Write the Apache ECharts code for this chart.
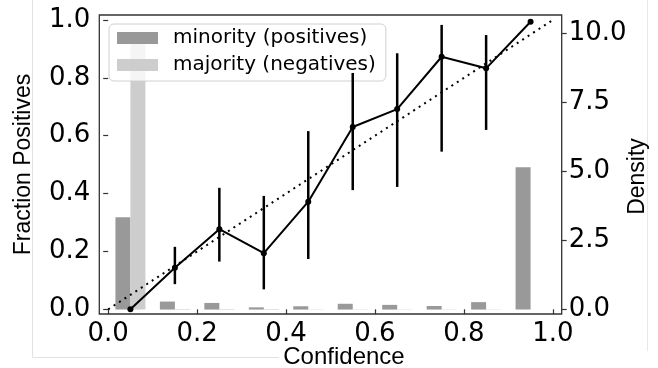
<!DOCTYPE html>
<html>
<head>
<meta charset="utf-8">
<script src="https://cdn.jsdelivr.net/npm/echarts@6/dist/echarts.min.js"></script>
<style>
html,body{margin:0;padding:0;background:#fff;}
#chart{width:658px;height:368px;}
</style>
</head>
<body>
<div id="chart"></div>
<script>
// ---- data ----
var binCenters = [0.05, 0.15, 0.25, 0.35, 0.45, 0.55, 0.65, 0.75, 0.85, 0.95];
var minorityDensity = [3.34, 0.29, 0.24, 0.08, 0.12, 0.21, 0.17, 0.13, 0.27, 5.15];
var majorityDensity = [9.93, 0.02, 0.02, 0.02, 0.01, 0.01, 0.01, 0.01, 0.01, 0];
var fractionPositives = [0.0, 0.144, 0.277, 0.194, 0.372, 0.63, 0.692, 0.873, 0.833, 0.994];
var errLow  = [null, 0.087, 0.165, 0.069, 0.174, 0.412, 0.423, 0.545, 0.62, null];
var errHigh = [null, 0.216, 0.42, 0.392, 0.616, 0.817, 0.885, 0.983, 0.948, null];
var xTicks = [0, 0.2, 0.4, 0.6, 0.8, 1.0];
var yTicks = [0, 0.2, 0.4, 0.6, 0.8, 1.0];
var densityTicks = [0, 2.5, 5, 7.5, 10];
var diagonal = [[0, 0], [1, 1]];
var seriesNames = ['minority (positives)', 'majority (negatives)'];

function zip(a, b) { return a.map(function (v, i) { return [v, b[i]]; }); }
var errData = [];
binCenters.forEach(function (c, i) {
  if (errLow[i] != null) errData.push([c, errLow[i], errHigh[i]]);
});

var tickFont = { fontFamily: 'DejaVu Sans', fontSize: 26, color: '#000' };
var nameFont = { fontFamily: 'Liberation Sans', fontSize: 23, color: '#000' };

var chart = echarts.init(document.getElementById('chart'));
chart.setOption({
  animation: false,
  backgroundColor: '#fff',
  grid: { left: 99.3, right: 96.3, top: 15, bottom: 54, outerBoundsMode: 'none', containLabel: false,
          show: true, borderColor: '#333', borderWidth: 1.3, backgroundColor: 'transparent' },
  legend: {
    orient: 'vertical', left: 109, top: 24,
    data: seriesNames,
    icon: 'rect', itemWidth: 41, itemHeight: 12, itemGap: 7,
    backgroundColor: 'rgba(255,255,255,0.8)', borderColor: '#d0d0d0', borderWidth: 1, borderRadius: 5,
    padding: [4, 10, 6, 8],
    textStyle: { fontFamily: 'DejaVu Sans', fontSize: 20, color: '#000', lineHeight: 20, padding: [0, 0, 0, 10] }
  },
  xAxis: {
    type: 'value', min: -0.02, max: 1.02,
    splitLine: { show: false },
    axisLine: { show: false },
    axisTick: { show: true, length: 5, customValues: xTicks, lineStyle: { color: '#333', width: 1.2 } },
    axisLabel: Object.assign({ customValues: xTicks, margin: 7, formatter: function (v) { return v.toFixed(1); } }, tickFont),
    name: 'Confidence', nameLocation: 'middle', nameGap: 31, nameMoveOverlap: false,
    nameTextStyle: Object.assign({}, nameFont, { fontSize: 24, padding: [0, 0, 0, 27] })
  },
  yAxis: [{
    type: 'value', min: -0.0162, max: 1.0173,
    splitLine: { show: false },
    axisLine: { show: false },
    axisTick: { show: true, length: 5, customValues: yTicks, lineStyle: { color: '#333', width: 1.2 } },
    axisLabel: Object.assign({ customValues: yTicks, margin: 9, formatter: function (v) { return v.toFixed(1); } }, tickFont),
    name: 'Fraction Positives', nameLocation: 'middle', nameGap: 64, nameRotate: 90, nameMoveOverlap: false,
    nameTextStyle: nameFont
  }, {
    type: 'value', min: -0.16, max: 10.66, position: 'right',
    splitLine: { show: false },
    axisLine: { show: false },
    axisTick: { show: true, length: 5, customValues: densityTicks, lineStyle: { color: '#333', width: 1.2 } },
    axisLabel: Object.assign({ customValues: densityTicks, margin: 7, formatter: function (v) { return v.toFixed(1); } }, tickFont),
    name: 'Density', nameLocation: 'middle', nameGap: 64, nameRotate: 90, nameMoveOverlap: false,
    nameTextStyle: Object.assign({}, nameFont, { padding: [0, 24, 0, 0] })
  }],
  graphic: [
    { type: 'line', z: -10, shape: { x1: 32.5, y1: 0, x2: 32.5, y2: 357.5 }, style: { stroke: '#e2e2e2', lineWidth: 1 } },
    { type: 'line', z: -10, shape: { x1: 32.5, y1: 357.5, x2: 279, y2: 357.5 }, style: { stroke: '#e2e2e2', lineWidth: 1 } },
    { type: 'line', z: -10, shape: { x1: 647.5, y1: 0, x2: 647.5, y2: 351 }, style: { stroke: '#e8e8e8', lineWidth: 1 } }
  ],
  series: [
    {
      name: seriesNames[0], type: 'bar', yAxisIndex: 1,
      data: zip(binCenters, minorityDensity),
      barWidth: 15, barGap: '0%',
      itemStyle: { color: '#999999' }, z: 1
    },
    {
      name: seriesNames[1], type: 'bar', yAxisIndex: 1,
      data: zip(binCenters, majorityDensity),
      barWidth: 15, barGap: '0%',
      itemStyle: { color: '#cdcdcd' }, z: 1
    },
    {
      type: 'line', yAxisIndex: 0, data: diagonal,
      symbol: 'none', z: 3,
      lineStyle: { color: '#000', width: 2, type: [2, 4.5], cap: 'butt' }
    },
    {
      type: 'custom', yAxisIndex: 0, data: errData, z: 4,
      renderItem: function (params, api) {
        var p1 = api.coord([api.value(0), api.value(1)]);
        var p2 = api.coord([api.value(0), api.value(2)]);
        return { type: 'line', shape: { x1: p1[0], y1: p1[1], x2: p2[0], y2: p2[1] }, style: { stroke: '#000', lineWidth: 2.5 } };
      }
    },
    {
      type: 'line', yAxisIndex: 0, data: zip(binCenters, fractionPositives),
      symbol: 'circle', symbolSize: 6, z: 5,
      itemStyle: { color: '#000' },
      lineStyle: { color: '#000', width: 2 }
    }
  ]
});
</script>
</body>
</html>
